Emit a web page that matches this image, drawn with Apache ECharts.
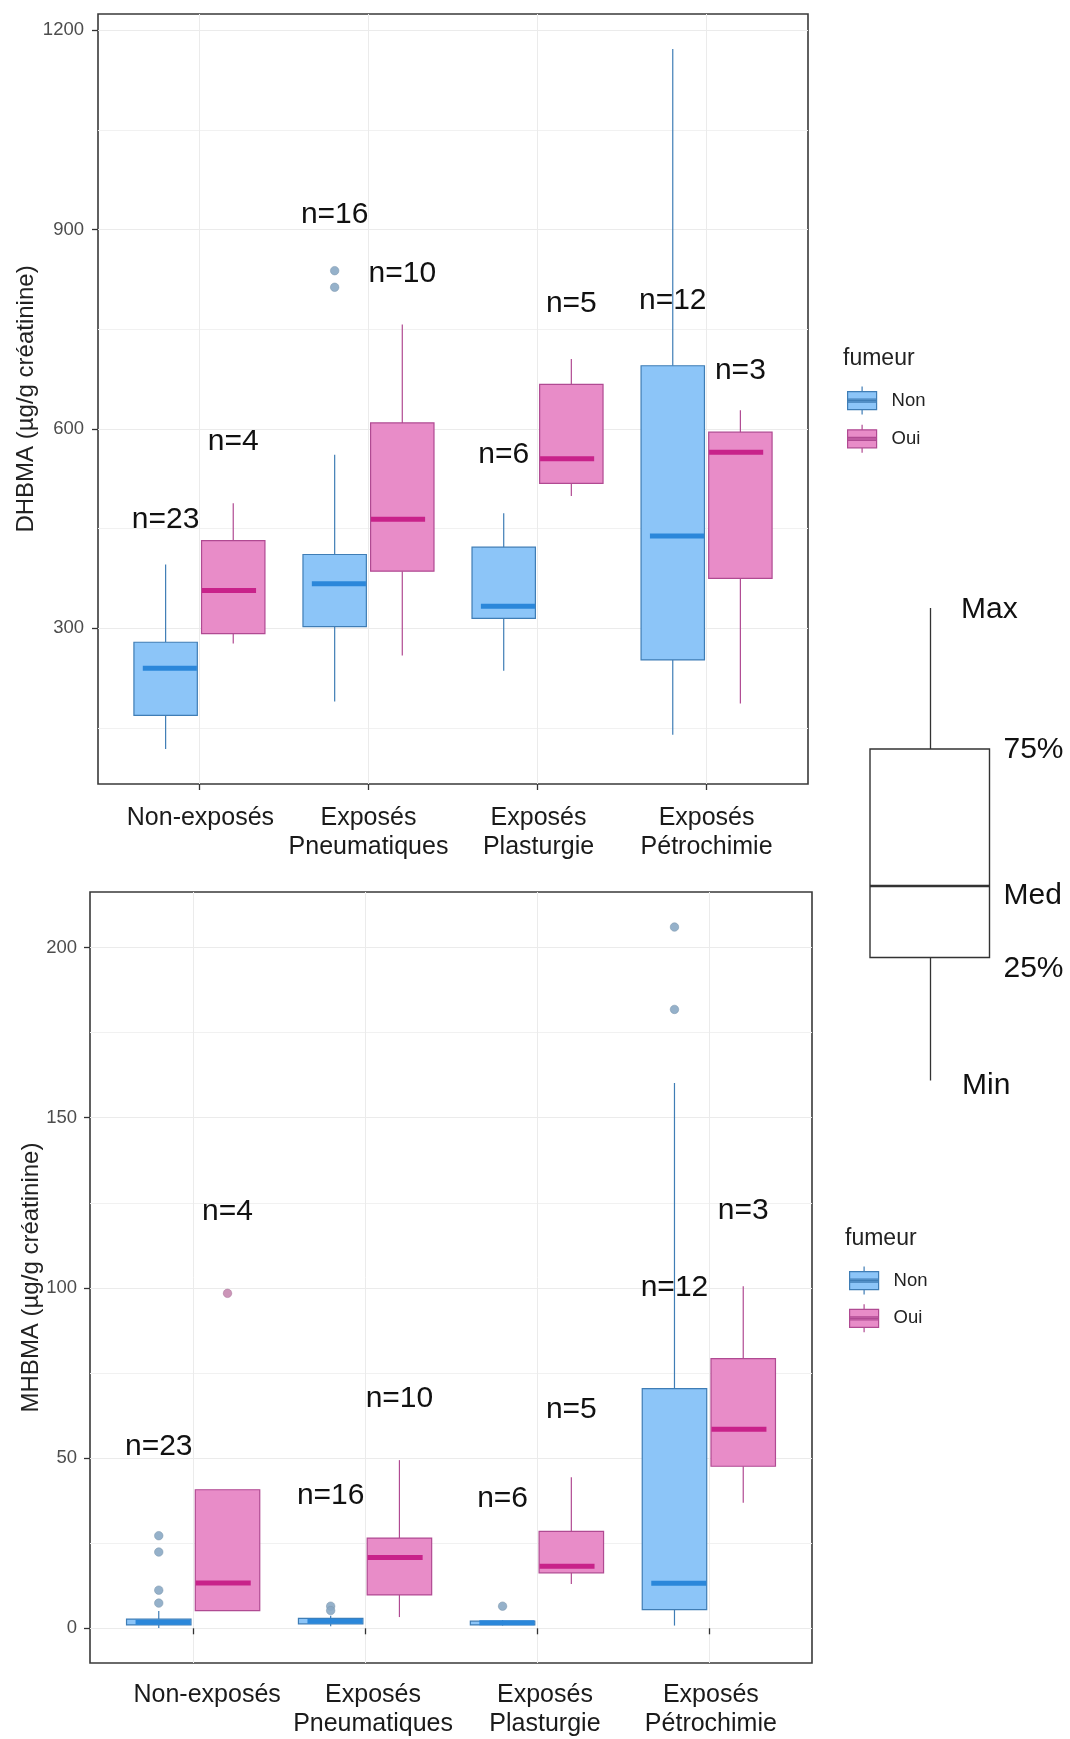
<!DOCTYPE html>
<html>
<head>
<meta charset="utf-8">
<script src="https://cdn.jsdelivr.net/npm/echarts@6/dist/echarts.min.js"></script>
<style>
  html, body { margin: 0; padding: 0; background: #ffffff; }
  #chart { width: 1070px; height: 1739px; }
</style>
</head>
<body>
<div id="chart"></div>
<script>
// ---------------------------------------------------------------------------
// Data
// ---------------------------------------------------------------------------
const categories = ['Non-exposés', 'Exposés\nPneumatiques', 'Exposés\nPlasturgie', 'Exposés\nPétrochimie'];
const groups = ['Non', 'Oui'];

// DHBMA (µg/g créatinine): [min, Q1, médiane, Q3, max] par catégorie
const dhbmaNon = [
  [118.4, 169, 240, 279, 396],
  [190, 302.5, 367, 411, 561],
  [236, 315, 333, 422, 473],
  [140, 252.4, 439, 695, 1171.5]
];
const dhbmaOui = [
  [277, 292, 357, 432, 488],
  [259, 386, 464, 609, 757],
  [499, 518, 555, 667, 705],
  [187, 375, 565, 595, 628]
];
const dhbmaOutliersNon = [[], [838, 813], [], []];
const dhbmaOutliersOui = [[], [], [], []];
const dhbmaCountNon = [23, 16, 6, 12];
const dhbmaCountOui = [4, 10, 5, 3];
const dhbmaCountAtNon = [464, 922, 561, 793];
const dhbmaCountAtOui = [580, 834, 788, 688];
const dhbmaTicks = [300, 600, 900, 1200];
const dhbmaMinorTicks = [150, 450, 750, 1050];

// MHBMA (µg/g créatinine)
const mhbmaNon = [
  [0.1, 1.0, 1.8, 2.7, 5.1],
  [0.6, 1.3, 2.1, 2.9, 3.7],
  [0.8, 1.0, 1.6, 2.1, 2.4],
  [0.8, 5.5, 13.2, 70.4, 160.2]
];
const mhbmaOui = [
  [5.2, 5.2, 13.3, 40.7, 40.7],
  [3.3, 9.8, 20.8, 26.5, 49.4],
  [13.0, 16.3, 18.2, 28.5, 44.4],
  [36.9, 47.6, 58.5, 79.2, 100.5]
];
const mhbmaOutliersNon = [[27.2, 22.4, 11.2, 7.4], [6.5, 5.2], [6.5], [206.0, 181.8]];
const mhbmaOutliersOui = [[98.4], [], [], []];
const mhbmaCountNon = [23, 16, 6, 12];
const mhbmaCountOui = [4, 10, 5, 3];
const mhbmaCountAtNon = [53.3, 39, 38.2, 100];
const mhbmaCountAtOui = [122.3, 67.5, 64.2, 122.8];
const mhbmaTicks = [0, 50, 100, 150, 200];
const mhbmaMinorTicks = [25, 75, 125, 175];

// ---------------------------------------------------------------------------
// Layout and style
// ---------------------------------------------------------------------------
const FONT = '"Liberation Sans", Arial, Helvetica, sans-serif';
const BOX_DODGE = 0.2;     // offset of each group's box from the category centre
const BOX_WIDTH = 0.375;
const MED_DODGE = 0.175;   // median bars are dodged slightly less
const MED_WIDTH = 0.32;
const X_RANGE = [0.4, 4.6];
const AXES_PER_PANEL = 1 + categories.length;   // frame axis + one label axis per category

const STYLE = {
  Non: { fill: '#8CC5F8', line: '#3F7DB5', median: '#2B87DA', point: '#8AA9C4' },
  Oui: { fill: '#E88CC8', line: '#B04A92', median: '#C8228A', point: '#C68AB0' }
};

function paddedRange(stats, outliers) {
  let lo = Infinity, hi = -Infinity;
  stats.forEach(g => g.forEach(s => { lo = Math.min(lo, s[0]); hi = Math.max(hi, s[4]); }));
  outliers.forEach(g => g.forEach(list => list.forEach(v => { lo = Math.min(lo, v); hi = Math.max(hi, v); })));
  const pad = (hi - lo) * 0.05;
  return [lo - pad, hi + pad];
}

function boxRenderer(side, st) {
  return function (params, api) {
    const c = api.value(0);
    const xb = c + side * BOX_DODGE;
    const xm = c + side * MED_DODGE;
    const lo = api.coord([xb, api.value(1)]);
    const q1 = api.coord([xb, api.value(2)]);
    const q3 = api.coord([xb, api.value(4)]);
    const hi = api.coord([xb, api.value(5)]);
    const md = api.coord([xm, api.value(3)]);
    const bw = api.size([BOX_WIDTH, 0])[0];
    const mw = api.size([MED_WIDTH, 0])[0];
    return {
      type: 'group',
      children: [
        { type: 'line', shape: { x1: hi[0], y1: hi[1], x2: q3[0], y2: q3[1] },
          style: { stroke: st.line, lineWidth: 1.2 } },
        { type: 'line', shape: { x1: q1[0], y1: q1[1], x2: lo[0], y2: lo[1] },
          style: { stroke: st.line, lineWidth: 1.2 } },
        { type: 'rect', shape: { x: q3[0] - bw / 2, y: q3[1], width: bw, height: q1[1] - q3[1] },
          style: { fill: st.fill, stroke: st.line, lineWidth: 1.2 } },
        { type: 'line', shape: { x1: md[0] - mw / 2, y1: md[1], x2: md[0] + mw / 2, y2: md[1] },
          style: { stroke: st.median, lineWidth: 5 } }
      ]
    };
  };
}

function countRenderer(params, api) {
  const side = api.value(3);
  const p = api.coord([api.value(0) + side * BOX_DODGE, api.value(1)]);
  return {
    type: 'text',
    x: p[0], y: p[1],
    style: {
      text: 'n=' + api.value(2),
      font: '30px ' + FONT,
      fill: '#111111',
      textAlign: 'center',
      textVerticalAlign: 'middle'
    }
  };
}

function buildPanel(idx, cfg) {
  const yRange = paddedRange([cfg.non, cfg.oui], [cfg.outNon, cfg.outOui]);
  const xIdx = idx * AXES_PER_PANEL;
  const yMain = idx * 2;

  const grid = Object.assign({
    show: true, borderColor: '#3a3a3a', borderWidth: 1.6, backgroundColor: '#ffffff'
  }, cfg.grid);

  // Frame axis: ticks and vertical grid lines at the category centres
  const xAxes = [{
    type: 'value', gridIndex: idx, min: X_RANGE[0], max: X_RANGE[1], position: 'bottom',
    axisLine: { show: false },
    axisTick: { show: true, length: 6, customValues: [1, 2, 3, 4],
      lineStyle: { color: '#333333', width: 1.3 } },
    axisLabel: { show: false, customValues: [1, 2, 3, 4] },
    splitLine: { show: true, lineStyle: { color: '#EBEBEB', width: 1 } }
  }];
  // One label axis per category, so each label can carry its own sideways nudge
  categories.forEach((cat, i) => {
    xAxes.push({
      type: 'value', gridIndex: idx, min: X_RANGE[0], max: X_RANGE[1],
      position: 'bottom', offset: 0,
      axisLine: { show: false }, axisTick: { show: false }, splitLine: { show: false },
      axisLabel: {
        customValues: [i + 1], showMinLabel: true, showMaxLabel: true,
        formatter: () => cat,
        fontFamily: FONT, fontSize: 25, lineHeight: 29, color: '#1a1a1a',
        margin: cfg.xLabelMargin, align: 'center',
        padding: [0, 0, 0, 2 * cfg.labelShift[i]]
      }
    });
  });

  const yAxes = [
    {
      type: 'value', gridIndex: idx, min: yRange[0], max: yRange[1],
      name: cfg.yName, nameLocation: 'middle', nameGap: cfg.nameGap, nameMoveOverlap: false,
      nameTextStyle: { fontFamily: FONT, fontSize: 24, color: '#222222' },
      axisLine: { show: false },
      axisTick: { show: true, length: 6, customValues: cfg.ticks,
        lineStyle: { color: '#333333', width: 1.3 } },
      axisLabel: { customValues: cfg.ticks, formatter: v => String(v), fontFamily: FONT,
        fontSize: 18.5, color: '#4d4d4d', margin: cfg.yLabelMargin },
      splitLine: { show: true, lineStyle: { color: '#EBEBEB', width: 1.1 } }
    },
    {
      type: 'value', gridIndex: idx, min: yRange[0], max: yRange[1], position: 'left',
      axisLine: { show: false },
      axisTick: { show: false, customValues: cfg.minorTicks },
      axisLabel: { show: false, customValues: cfg.minorTicks },
      splitLine: { show: true, lineStyle: { color: '#F1F1F1', width: 1 } }
    }
  ];

  const boxData = stats => stats.map((s, i) => [i + 1].concat(s));
  const pointData = (lists, side) => {
    const out = [];
    lists.forEach((list, i) => list.forEach(v => out.push([i + 1 + side * BOX_DODGE, v])));
    return out;
  };
  const countData = [];
  cfg.countNon.forEach((n, i) => countData.push([i + 1, cfg.countAtNon[i], n, -1]));
  cfg.countOui.forEach((n, i) => countData.push([i + 1, cfg.countAtOui[i], n, 1]));

  const series = [
    { type: 'custom', name: 'Non', xAxisIndex: xIdx, yAxisIndex: yMain,
      dimensions: ['x', 'min', 'q1', 'median', 'q3', 'max'],
      encode: { x: 0, y: [1, 2, 3, 4, 5] },
      itemStyle: { color: STYLE.Non.fill, borderColor: STYLE.Non.line },
      renderItem: boxRenderer(-1, STYLE.Non), data: boxData(cfg.non), z: 3 },
    { type: 'custom', name: 'Oui', xAxisIndex: xIdx, yAxisIndex: yMain,
      dimensions: ['x', 'min', 'q1', 'median', 'q3', 'max'],
      encode: { x: 0, y: [1, 2, 3, 4, 5] },
      itemStyle: { color: STYLE.Oui.fill, borderColor: STYLE.Oui.line },
      renderItem: boxRenderer(1, STYLE.Oui), data: boxData(cfg.oui), z: 3 },
    { type: 'scatter', name: 'Non', xAxisIndex: xIdx, yAxisIndex: yMain,
      symbol: 'circle', symbolSize: 8.5,
      itemStyle: { color: STYLE.Non.point, opacity: 0.9, borderColor: '#7C97AE', borderWidth: 0.6 },
      data: pointData(cfg.outNon, -1), z: 4 },
    { type: 'scatter', name: 'Oui', xAxisIndex: xIdx, yAxisIndex: yMain,
      symbol: 'circle', symbolSize: 8.5,
      itemStyle: { color: STYLE.Oui.point, opacity: 0.9, borderColor: '#A9759A', borderWidth: 0.6 },
      data: pointData(cfg.outOui, 1), z: 4 },
    { type: 'custom', name: 'effectifs', xAxisIndex: xIdx, yAxisIndex: yMain,
      dimensions: ['x', 'y', 'n', 'side'], encode: { x: 0, y: 1 },
      renderItem: countRenderer, data: countData, z: 5, clip: false }
  ];

  return { grid, xAxes, yAxes, series };
}

const legendIcon = 'path://M14.5,0V5M14.5,23V28M0,5H29V23H0ZM0,12.5H29M0,14H29M0,15.5H29';

function buildLegend(pos) {
  return {
    orient: 'vertical', left: pos.left, top: pos.top, padding: 0,
    itemWidth: 29, itemHeight: 28, itemGap: pos.gap, selectedMode: false,
    textStyle: { fontFamily: FONT, fontSize: 18.5, color: '#222222', padding: [0, 0, 0, 10] },
    data: groups.map(g => ({
      name: g, icon: legendIcon,
      itemStyle: { color: STYLE[g].fill, borderColor: STYLE[g].line, borderWidth: 1.2 }
    }))
  };
}

const panelDhbma = buildPanel(0, {
  grid: { left: 98, top: 14, width: 710, height: 770 },
  non: dhbmaNon, oui: dhbmaOui, outNon: dhbmaOutliersNon, outOui: dhbmaOutliersOui,
  countNon: dhbmaCountNon, countOui: dhbmaCountOui,
  countAtNon: dhbmaCountAtNon, countAtOui: dhbmaCountAtOui,
  ticks: dhbmaTicks, minorTicks: dhbmaMinorTicks,
  yName: 'DHBMA (µg/g créatinine)', nameGap: 60, yLabelMargin: 14, xLabelMargin: 20,
  labelShift: [1, 0, 1, 0]
});
const panelMhbma = buildPanel(1, {
  grid: { left: 90, top: 892, width: 722, height: 772 },
  non: mhbmaNon, oui: mhbmaOui, outNon: mhbmaOutliersNon, outOui: mhbmaOutliersOui,
  countNon: mhbmaCountNon, countOui: mhbmaCountOui,
  countAtNon: mhbmaCountAtNon, countAtOui: mhbmaCountAtOui,
  ticks: mhbmaTicks, minorTicks: mhbmaMinorTicks,
  yName: 'MHBMA (µg/g créatinine)', nameGap: 47, yLabelMargin: 13, xLabelMargin: 18,
  labelShift: [14, 8, 8, 2]
});

// Explanatory box diagram on the right
const keyText = (text, x, y) => ({
  type: 'text', x: x, y: y,
  style: { text: text, font: '30px ' + FONT, fill: '#111111', textAlign: 'left', textVerticalAlign: 'middle' }
});
const keyLine = (x1, y1, x2, y2, w) => ({
  type: 'line', shape: { x1, y1, x2, y2 }, style: { stroke: '#333333', lineWidth: w }
});
const diagram = [
  keyLine(930.5, 608, 930.5, 749, 1.3),
  keyLine(930.5, 957.5, 930.5, 1080.5, 1.3),
  { type: 'rect', shape: { x: 870, y: 749, width: 119.5, height: 208.5 },
    style: { fill: '#ffffff', stroke: '#333333', lineWidth: 1.4 } },
  keyLine(870, 886, 989.5, 886, 2.6),
  keyText('Max', 961, 610),
  keyText('75%', 1003.5, 750),
  keyText('Med', 1003.5, 896),
  keyText('25%', 1003.5, 969),
  keyText('Min', 962, 1086)
];

const option = {
  animation: false,
  backgroundColor: '#ffffff',
  textStyle: { fontFamily: FONT },
  title: [
    { text: 'fumeur', left: 843, top: 347, padding: 0,
      textStyle: { fontFamily: FONT, fontSize: 23, fontWeight: 'normal', color: '#222222' } },
    { text: 'fumeur', left: 845, top: 1227, padding: 0,
      textStyle: { fontFamily: FONT, fontSize: 23, fontWeight: 'normal', color: '#222222' } }
  ],
  legend: [
    buildLegend({ left: 847, top: 386, gap: 9 }),
    buildLegend({ left: 849, top: 1266, gap: 8.5 })
  ],
  grid: [panelDhbma.grid, panelMhbma.grid],
  xAxis: panelDhbma.xAxes.concat(panelMhbma.xAxes),
  yAxis: panelDhbma.yAxes.concat(panelMhbma.yAxes),
  series: panelDhbma.series.concat(panelMhbma.series),
  graphic: diagram
};

const chart = echarts.init(document.getElementById('chart'), null, { renderer: 'canvas' });
chart.setOption(option);
</script>
</body>
</html>
